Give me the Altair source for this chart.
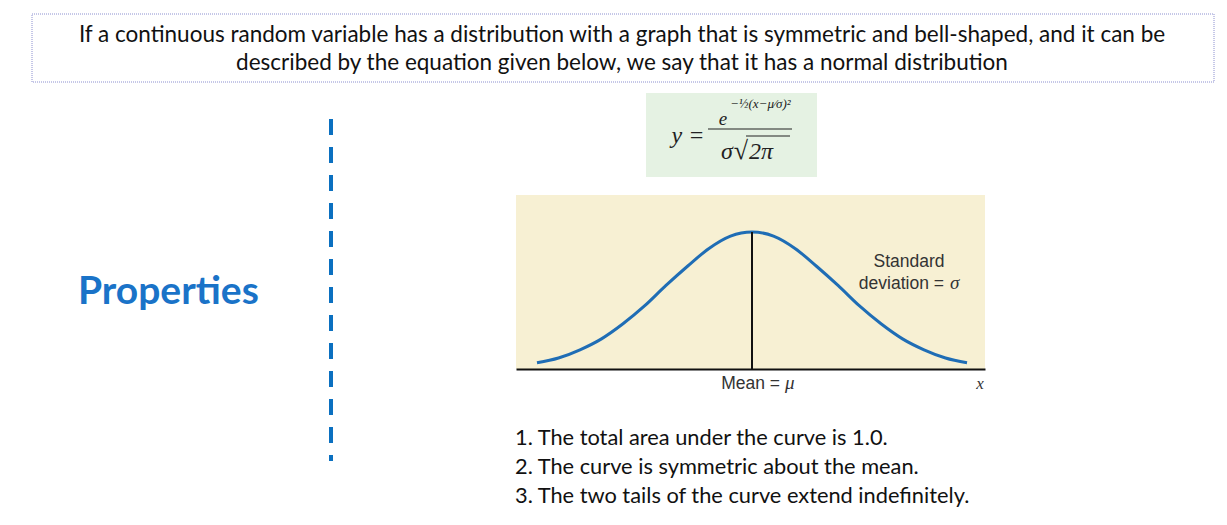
import altair as alt
import pandas as pd

# ---- data ----
z_values = [-2.5, -2.25, -2.0, -1.75, -1.5, -1.25, -1.0, -0.75, -0.5, -0.25, 0.0,
            0.25, 0.5, 0.75, 1.0, 1.25, 1.5, 1.75, 2.0, 2.25, 2.5]
heights = [0.045, 0.08, 0.14, 0.22, 0.33, 0.46, 0.61, 0.75, 0.88, 0.97, 1.0,
           0.97, 0.88, 0.75, 0.61, 0.46, 0.33, 0.22, 0.14, 0.08, 0.045]
mean_value = [0.0]
mean_height = [1.0]

title_lines = [
    "If a continuous random variable has a distribution with a graph that is symmetric and bell-shaped, and it can be",
    "described by the equation given below, we say that it has a normal distribution",
]
side_label = ["Properties"]
curve_labels = ["Standard", "deviation =", "σ"]
axis_labels = ["Mean =", "μ", "x"]
property_lines = [
    "1. The total area under the curve is 1.0.",
    "2. The curve is symmetric about the mean.",
    "3. The two tails of the curve extend indefinitely.",
]

# ---- layout (plot area = yellow panel; offsets relative to it) ----
OX, OY = 516, 195          # plot-area origin in page pixels
W, H = 469, 174


def px(x):
    return x - OX


def py(y):
    return y - OY


curve_df = pd.DataFrame({"z": z_values, "h": heights})
mean_df = pd.DataFrame({"z": mean_value, "h0": [0.0], "h": mean_height})

xs = alt.Scale(domain=[-2.744, 2.709])
ys = alt.Scale(domain=[0, 1.27])

curve = alt.Chart(curve_df).mark_line(color="#1f6db5", strokeWidth=3, interpolate="monotone").encode(
    x=alt.X("z:Q", scale=xs, axis=alt.Axis(domain=True, domainColor="#111", domainWidth=2,
                                           ticks=False, labels=False, grid=False, title=None)),
    y=alt.Y("h:Q", scale=ys, axis=None),
)

mean_rule = alt.Chart(mean_df).mark_rule(color="#111", strokeWidth=2).encode(
    x=alt.X("z:Q", scale=xs), y=alt.Y("h0:Q", scale=ys), y2="h:Q"
)


def text(label, x, y, **kw):
    return alt.Chart(pd.DataFrame({"t": [label]})).mark_text(**kw).encode(
        text="t:N", x=alt.value(px(x)), y=alt.value(py(y))
    )


def box(x1, x2, y1, y2, **kw):
    return alt.Chart(pd.DataFrame({"a": [0]})).mark_rect(**kw).encode(
        x=alt.value(px(x1)), x2=alt.value(px(x2)), y=alt.value(py(y1)), y2=alt.value(py(y2))
    )


def hline(x1, x2, y, **kw):
    return alt.Chart(pd.DataFrame({"a": [0]})).mark_rule(**kw).encode(
        x=alt.value(px(x1)), x2=alt.value(px(x2)), y=alt.value(py(y))
    )


def vline(x, y1, y2, **kw):
    return alt.Chart(pd.DataFrame({"a": [0]})).mark_rule(**kw).encode(
        x=alt.value(px(x)), y=alt.value(py(y1)), y2=alt.value(py(y2))
    )


sans = "Lato"
serif = "Liberation Serif"
arial = "Liberation Sans"

layers = [
    # title box
    box(32, 1214, 14, 82, fill="white", stroke="#8c90d0", strokeWidth=1, strokeDash=[1, 1]),
    text(title_lines[0], 622, 35, font=sans, fontSize=22.5, color="#111", align="center", baseline="middle"),
    text(title_lines[1], 622, 63, font=sans, fontSize=22.5, color="#111", align="center", baseline="middle"),
    # side label and dashed divider
    text(side_label[0], 78, 292, font=sans, fontSize=39, fontWeight="bold", color="#1a73c8",
         align="left", baseline="middle"),
    vline(331, 119, 461, color="#0b70c0", strokeWidth=4, strokeDash=[16, 12]),
    # formula box
    box(646, 817, 93, 177, fill="#e5f2e3"),
    text("y =", 688, 136, font=serif, fontSize=24, fontStyle="italic", color="#222",
         align="center", baseline="middle"),
    text("e", 723, 119, font=serif, fontSize=19, fontStyle="italic", color="#222",
         align="center", baseline="middle"),
    text("−½(x−μ⁄σ)²", 730, 104, font=serif, fontSize=13, fontStyle="italic", color="#222",
         align="left", baseline="middle"),
    hline(708, 792, 129, color="#222", strokeWidth=1.2),
    text("σ", 727, 159, font=serif, fontSize=24, fontStyle="italic", color="#222",
         align="center", baseline="alphabetic"),
    text("√", 741, 159, font=serif, fontSize=26, color="#222",
         align="center", baseline="alphabetic"),
    text("2π", 749, 159, font=serif, fontSize=24, fontStyle="italic", color="#222",
         align="left", baseline="alphabetic"),
    hline(746, 790, 136, color="#222", strokeWidth=1),
    # chart
    curve,
    mean_rule,
    text(curve_labels[0], 909, 262, font=arial, fontSize=17.5, color="#333", align="center", baseline="middle"),
    text(curve_labels[1], 944, 289, font=arial, fontSize=17.5, color="#333", align="right", baseline="alphabetic"),
    text(curve_labels[2], 950, 289, font=serif, fontSize=19, fontStyle="italic", color="#333",
         align="left", baseline="alphabetic"),
    text(axis_labels[0], 780, 389, font=arial, fontSize=17.5, color="#333", align="right", baseline="alphabetic"),
    text(axis_labels[1], 785, 389, font=serif, fontSize=19, fontStyle="italic", color="#333",
         align="left", baseline="alphabetic"),
    text(axis_labels[2], 980, 389, font=serif, fontSize=17, fontStyle="italic", color="#333",
         align="center", baseline="alphabetic"),
]

for i, line in enumerate(property_lines):
    layers.append(text(line, 515, 438 + 29 * i, font=sans, fontSize=21.8, color="#111",
                       align="left", baseline="middle"))

chart = alt.layer(*layers).properties(
    width=W, height=H,
    autosize=alt.AutoSizeParams(type="none"),
    padding={"left": OX - 8, "top": OY - 8, "right": 1219 - (OX + W), "bottom": 140},
    background="white",
).configure_view(fill="#f7f0d3", stroke=None)

chart.save("out.html", embed_options={"renderer": "svg", "actions": False})
